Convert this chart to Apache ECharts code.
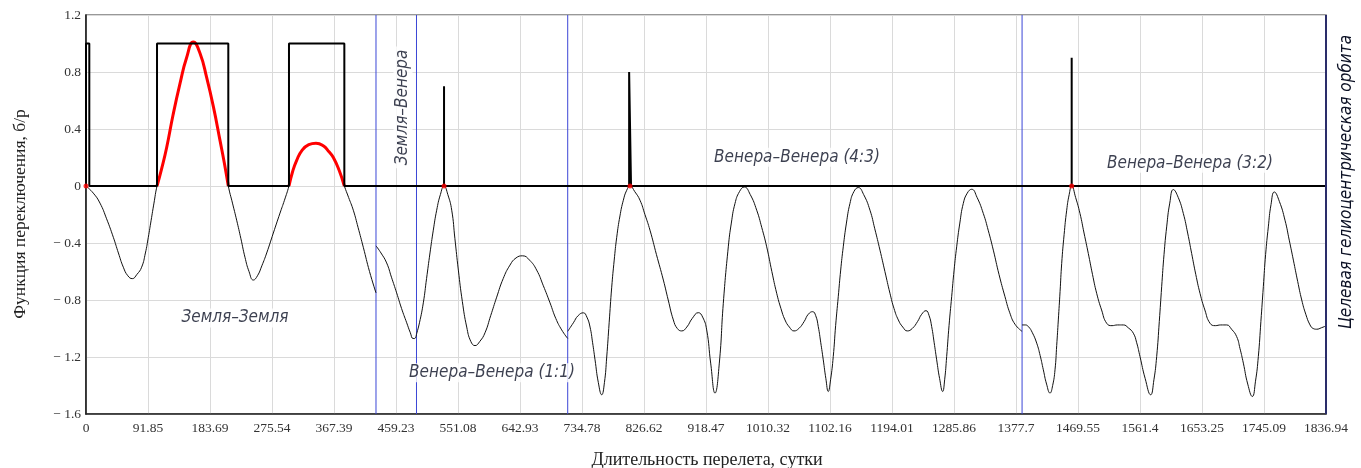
<!DOCTYPE html>
<html>
<head>
<meta charset="utf-8">
<script src="https://cdn.jsdelivr.net/npm/echarts@6/dist/echarts.min.js"></script>
<style>
html,body{margin:0;padding:0;background:#fff;}
#chart{width:1361px;height:468px;}
</style>
</head>
<body>
<div id="chart"></div>
<script>
// ---- tick labels ----
const xTickStep = 91.847;
const xTickLabels = ['0','91.85','183.69','275.54','367.39','459.23','551.08','642.93','734.78','826.62','918.47','1010.32','1102.16','1194.01','1285.86','1377.7','1469.55','1561.4','1653.25','1745.09','1836.94'];
const xMax = 1836.94;
const yMin = -1.6, yMax = 1.2, yStep = 0.4;

// ---- switching function, by flight segment ----
const segEarthEarth = [[0,0],[10.8,-0.05],[20.7,-0.12],[30.5,-0.23],[40.5,-0.36],[48,-0.47],[55.3,-0.57],[62,-0.63],[68.6,-0.65],[75.5,-0.62],[82.4,-0.57],[88,-0.47],[92.3,-0.36],[96.5,-0.24],[100.7,-0.12],[105.2,0],[112,0.12],[119.5,0.27],[129,0.5],[139.3,0.72],[149,0.9],[159,1.01],[169,0.93],[178.8,0.76],[189,0.55],[198.5,0.32],[205,0.16],[210.8,0],[217,-0.12],[223.2,-0.24],[229.5,-0.37],[235.5,-0.5],[241.5,-0.6],[247.9,-0.66],[254,-0.63],[260.5,-0.56],[267.7,-0.47],[277.5,-0.33],[287.4,-0.19],[294,-0.1],[300.7,0],[306,0.1],[312.1,0.18],[320,0.25],[330,0.29],[340.7,0.30],[352,0.28],[360,0.24],[366.4,0.2],[375,0.11],[382.7,0],[389,-0.08],[396,-0.17],[403,-0.29],[410.8,-0.43],[420,-0.6],[429.6,-0.75]];
const segEarthVenus = [[429.6,-0.42],[437,-0.47],[445.4,-0.54],[452.5,-0.64],[460.2,-0.75],[467.5,-0.86],[475.1,-0.96],[480.5,-1.03],[484.5,-1.07],[487,-1.07],[489.6,-1.04]];
const segVV11 = [[489.6,-1.04],[494,-0.96],[499.7,-0.82],[504.5,-0.65],[509.6,-0.47],[514.5,-0.31],[519.5,-0.17],[525,-0.06],[530.4,0],[536,-0.06],[541.8,-0.17],[546.5,-0.37],[551.6,-0.59],[557.5,-0.81],[564,-0.99],[570,-1.09],[576.3,-1.12],[583.5,-1.09],[591.1,-1.03],[599.5,-0.91],[608.4,-0.78],[618,-0.65],[628.1,-0.555],[637,-0.505],[646.9,-0.49],[657,-0.52],[667.6,-0.59],[677.5,-0.7],[687.4,-0.82],[696,-0.93],[704.7,-1.01],[713.6,-1.07]];
const segVV43 = [[713.6,-1.02],[722,-0.96],[729,-0.91],[736.8,-0.89],[742,-0.92],[746.7,-0.99],[750.5,-1.1],[754.1,-1.22],[759,-1.38],[764,-1.465],[768,-1.38],[771.4,-1.2],[775,-0.96],[778.8,-0.71],[782.5,-0.52],[786.2,-0.36],[791,-0.21],[796,-0.1],[801,-0.03],[805.9,0],[813,-0.04],[820.7,-0.1],[828,-0.2],[835.5,-0.31],[845,-0.48],[855.3,-0.66],[862.5,-0.8],[870.1,-0.94],[876,-1],[882.5,-1.017],[890,-0.99],[898,-0.93],[907.1,-0.889],[913.5,-0.92],[919.5,-1.01],[925.4,-1.243],[931.8,-1.453],[938.2,-1.243],[944.1,-0.823],[951.5,-0.427],[956,-0.26],[961.4,-0.123],[968,-0.04],[975.2,-0.007],[984,-0.06],[993.6,-0.17],[1001,-0.29],[1008.4,-0.427],[1016,-0.6],[1023.2,-0.753],[1029.5,-0.86],[1035.5,-0.94],[1042,-0.99],[1048.8,-1.017],[1056,-1],[1064,-0.95],[1070,-0.9],[1076.5,-0.882],[1081,-0.91],[1084.8,-0.987],[1088.5,-1.1],[1092.2,-1.22],[1096,-1.35],[1099.6,-1.442],[1103,-1.36],[1107,-1.197],[1110.5,-0.98],[1114.4,-0.777],[1118,-0.59],[1121.8,-0.427],[1126.5,-0.26],[1131.7,-0.123],[1137.5,-0.04],[1144.1,-0.011],[1152,-0.06],[1161.4,-0.17],[1168.5,-0.3],[1176.2,-0.45],[1183.5,-0.6],[1191,-0.753],[1197,-0.86],[1203.4,-0.94],[1210,-0.99],[1216.7,-1.017],[1224,-1],[1232,-0.95],[1238,-0.9],[1244.4,-0.875],[1249,-0.91],[1252.8,-0.987],[1256.5,-1.1],[1260.2,-1.22],[1264.5,-1.35],[1269.1,-1.442],[1272,-1.36],[1275,-1.197],[1278.5,-0.98],[1282.4,-0.777],[1286,-0.59],[1289.8,-0.427],[1294.5,-0.26],[1299.6,-0.123],[1305.5,-0.05],[1312.1,-0.023],[1320,-0.08],[1329.3,-0.193],[1336.5,-0.31],[1344.1,-0.45],[1352.5,-0.62],[1361.4,-0.777],[1368.5,-0.89],[1376.2,-0.97],[1386.7,-1.02]];
const segVV32 = [[1386.7,-0.975],[1391.5,-0.975],[1396.1,-0.987],[1402,-1.03],[1408.4,-1.103],[1413.5,-1.19],[1418.2,-1.29],[1423,-1.39],[1428.1,-1.453],[1432,-1.4],[1435.5,-1.29],[1438,-1.12],[1440.4,-0.94],[1443,-0.74],[1445.4,-0.543],[1449,-0.34],[1452.8,-0.17],[1456.5,-0.06],[1460.2,0],[1466,-0.08],[1472.5,-0.193],[1478.5,-0.33],[1484.8,-0.473],[1491,-0.62],[1497.2,-0.753],[1504.5,-0.87],[1512,-0.963],[1520,-0.98],[1528,-0.975],[1536.7,-0.975],[1544,-0.995],[1551.5,-1.033],[1556.5,-1.1],[1561.4,-1.197],[1569,-1.35],[1577.2,-1.465],[1582,-1.36],[1586.1,-1.197],[1590,-0.95],[1593.5,-0.707],[1597,-0.48],[1600.9,-0.287],[1605.5,-0.12],[1610.8,-0.025],[1618,-0.08],[1625.6,-0.193],[1632,-0.33],[1637.9,-0.473],[1644,-0.62],[1650.3,-0.753],[1657.5,-0.87],[1665.1,-0.963],[1673,-0.98],[1681,-0.975],[1689.8,-0.975],[1697,-1.005],[1704.6,-1.057],[1709.5,-1.14],[1714.5,-1.243],[1721,-1.39],[1727.8,-1.477],[1732.5,-1.37],[1736.7,-1.197],[1740.5,-0.95],[1744.1,-0.707],[1747.5,-0.48],[1751.5,-0.287],[1755.5,-0.13],[1760.4,-0.042],[1768,-0.11],[1776.2,-0.24],[1782.5,-0.38],[1788.6,-0.52],[1795,-0.67],[1801,-0.8],[1807,-0.9],[1813.3,-0.975],[1818,-1],[1823.2,-1.005],[1830,-0.995],[1836.94,-0.982]];

// ---- positive parts (thrust arcs), red ----
const redArc1 = [[105.2,0],[112,0.12],[119.5,0.27],[129,0.5],[139.3,0.72],[149,0.9],[159,1.01],[169,0.93],[178.8,0.76],[189,0.55],[198.5,0.32],[205,0.16],[210.8,0]];
const redArc2 = [[300.7,0],[306,0.1],[312.1,0.18],[320,0.25],[330,0.29],[340.7,0.30],[352,0.28],[360,0.24],[366.4,0.2],[375,0.11],[382.7,0]];
const redDots = [[0,0],[530.4,0],[805.9,0],[1460.2,0]];

// ---- thrust on/off (step) ----
const stepPts = [[0,0],[0,1],[4.9,1],[4.9,0],[105.2,0],[105.2,1],[210.8,1],[210.8,0],[300.7,0],[300.7,1],[382.7,1],[382.7,0],[530.4,0],[530.4,0.7],[530.4,0],[804.6,0],[804.6,0.8],[807.4,0.8],[807.4,0],[1460.2,0],[1460.2,0.9],[1460.2,0],[1836.94,0]];

// ---- segment boundaries ----
const boundaries = [429.6, 489.6, 713.6, 1386.7];
const finalBoundary = 1836.94;

// ---- zone labels ----
const zoneTexts = ['Земля–Земля','Земля–Венера','Венера–Венера (1:1)','Венера–Венера (4:3)','Венера–Венера (3:2)'];
const zoneX = [220.7, 469.6, 601.5, 1053.3, 1635.5];
const zoneY = [-0.926, 0.551, -1.311, 0.201, 0.159];
const zoneRot = [0, 90, 0, 0, 0];
const targetOrbitText = 'Целевая гелиоцентрическая орбита';

const chart = echarts.init(document.getElementById('chart'), null, {renderer:'canvas'});
const labelFont = '"Liberation Sans Narrow","DejaVu Sans Condensed","Liberation Sans",sans-serif';
const labelColor = '#0b1024';

const thin = (d) => ({type:'line', data:d, smooth:0.5, showSymbol:false, symbol:'none',
  lineStyle:{color:'#111', width:1}, z:3, animation:false});
const series = [];
boundaries.forEach(b => series.push({type:'line', data:[[b,yMin],[b,yMax]], symbol:'none',
  lineStyle:{color:'#3b46d6', width:1}, z:1, animation:false}));
series.push({type:'line', data:[[finalBoundary,yMin],[finalBoundary,yMax]], symbol:'none',
  lineStyle:{color:'#2a2d6a', width:2}, z:6, animation:false});
[segEarthEarth, segEarthVenus, segVV11, segVV43, segVV32].forEach(s => series.push(thin(s)));
[redArc1, redArc2].forEach(s => series.push({type:'line', data:s, smooth:0.5, symbol:'none',
  lineStyle:{color:'#ff0000', width:3}, z:4, animation:false}));
series.push({type:'line', data:stepPts, symbol:'none', lineStyle:{color:'#000', width:2}, z:5, animation:false});
series.push({type:'scatter', data:redDots, symbol:'circle', symbolSize:5, itemStyle:{color:'#ff0000'}, z:7, animation:false});
series.push({type:'scatter', symbolSize:0, z:8, animation:false,
  data: zoneTexts.map((t,i)=>({value:[zoneX[i],zoneY[i]], name:t,
    label:{show:true, position:'inside', formatter:t, rotate:zoneRot[i],
      fontFamily:labelFont, fontStyle:'italic', fontSize:17, color:labelColor,
      backgroundColor:'#fff', padding:[1,3]}}))});

const serif = '"Liberation Serif","DejaVu Serif",serif';
chart.setOption({
  backgroundColor:'#fff',
  animation:false,
  grid:{left:86, right:35, top:15, bottom:54, show:true, borderColor:'#777', borderWidth:1.5, containLabel:false},
  xAxis:{type:'value', min:0, max:xMax, interval:xTickStep,
    axisLine:{show:true, onZero:false, lineStyle:{color:'#222', width:1.5}},
    axisTick:{show:false},
    splitLine:{show:true, lineStyle:{color:'#dadada', width:1}},
    axisLabel:{margin:7, color:'#333', fontFamily:serif, fontSize:13.5,
      formatter:(v)=>xTickLabels[Math.round(v/xTickStep)] ?? '', showMaxLabel:true, showMinLabel:true}},
  yAxis:{type:'value', min:yMin, max:yMax, interval:yStep,
    axisLine:{show:true, onZero:false, lineStyle:{color:'#111', width:1.5}},
    axisTick:{show:false},
    splitLine:{show:true, lineStyle:{color:'#dadada', width:1}},
    axisLabel:{margin:5, color:'#333', fontFamily:serif, fontSize:13.5,
      formatter:(v)=>{const r=Math.round(v*10)/10; return r<0 ? '− '+Math.abs(r) : String(r);}}},
  graphic:[
    {type:'text', x:20, y:214, rotation:Math.PI/2, style:{text:'Функция переключения, б/р',
      font:'17.5px "Liberation Serif", serif', fill:'#222', align:'center', verticalAlign:'middle'}},
    {type:'text', x:707, y:460, style:{text:'Длительность перелета, сутки', font:'18px "Liberation Serif", serif', fill:'#222',
      align:'center', verticalAlign:'middle'}},
    {type:'text', rotation:Math.PI/2, x:1347, y:182, style:{text:targetOrbitText,
      font:'italic 17px "Liberation Sans Narrow","DejaVu Sans Condensed",sans-serif', fill:labelColor, align:'center', verticalAlign:'middle'}}
  ],
  series: series
});
</script>
</body>
</html>
